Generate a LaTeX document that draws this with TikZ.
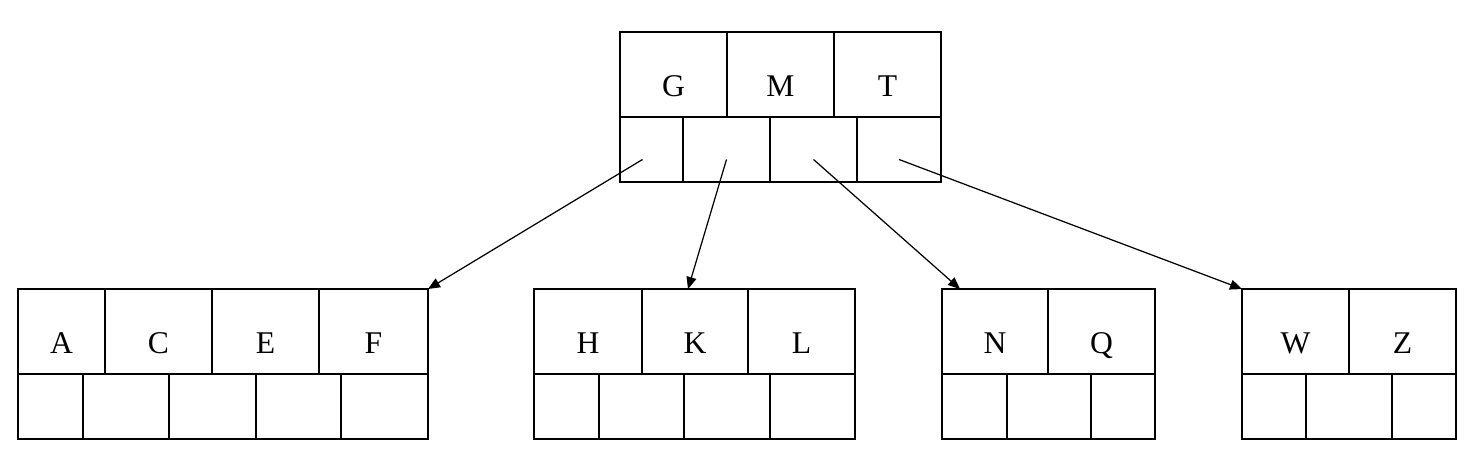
\documentclass[tikz,border=0pt]{standalone}
\usepackage{fontspec}
\newfontfamily\keyfont{Liberation Serif}
\usetikzlibrary{arrows.meta}

\begin{document}
\begin{tikzpicture}[x=0.02cm, y=-0.02cm, >={Triangle[length=2.4mm, width=2mm]}, keycell/.style={draw, line width=1pt, anchor=north west, minimum width=#1*0.02cm, minimum height=1.7cm, inner sep=0pt, outer sep=0pt, text height=0.9cm, text depth=0pt, font=\keyfont\fontsize{18}{18}\selectfont}, ptrcell/.style={draw, line width=1pt, anchor=north west, minimum width=#1*0.02cm, minimum height=1.3cm, inner sep=0pt, outer sep=0pt}, link/.style={->, line width=0.7pt}]
	\useasboundingbox (0,0) rectangle (1477,461);
	% root
	\node[keycell=107] (kG) at (620,32) {G};
	\node[keycell=107] (kM) at (kG.north east) {M};
	\node[keycell=107] (kT) at (kM.north east) {T};
	\node[ptrcell=63] (r1) at (kG.south west) {};
	\foreach \n/\p/\w in {r2/r1/87, r3/r2/87, r4/r3/84} {\node[ptrcell=\w] (\n) at (\p.north east) {};}
	% leaf A C E F
	\node[keycell=87] (kA) at (18,289) {A};
	\foreach \n/\p/\w/\l in {kC/kA/107/C, kE/kC/107/E, kF/kE/109/F} {\node[keycell=\w] (\n) at (\p.north east) {\l};}
	\node[ptrcell=65] (a1) at (kA.south west) {};
	\foreach \n/\p/\w in {a2/a1/86, a3/a2/87, a4/a3/85, a5/a4/87} {\node[ptrcell=\w] (\n) at (\p.north east) {};}
	% leaf H K L
	\node[keycell=108] (kH) at (534,289) {H};
	\foreach \n/\p/\w/\l in {kK/kH/106/K, kL/kK/107/L} {\node[keycell=\w] (\n) at (\p.north east) {\l};}
	\node[ptrcell=65] (h1) at (kH.south west) {};
	\foreach \n/\p/\w in {h2/h1/85, h3/h2/86, h4/h3/85} {\node[ptrcell=\w] (\n) at (\p.north east) {};}
	% leaf N Q
	\node[keycell=106] (kN) at (942,289) {N};
	\node[keycell=107] (kQ) at (kN.north east) {Q};
	\node[ptrcell=65] (n1) at (kN.south west) {};
	\foreach \n/\p/\w in {n2/n1/84, n3/n2/64} {\node[ptrcell=\w] (\n) at (\p.north east) {};}
	% leaf W Z
	\node[keycell=107] (kW) at (1242,289) {W};
	\node[keycell=107] (kZ) at (kW.north east) {Z};
	\node[ptrcell=64] (w1) at (kW.south west) {};
	\foreach \n/\p/\w in {w2/w1/86, w3/w2/64} {\node[ptrcell=\w] (\n) at (\p.north east) {};}
	% pointers
	\draw[link] ([shift={(-9,10)}]r1.center) -- (kF.north east);
	\draw[link] ([yshift=-0.2cm]r2.center) -- ([xshift=-0.14cm]kK.north);
	\draw[link] ([yshift=-0.2cm]r3.center) -- ([xshift=0.36cm]kN.north west);
	\draw[link] ([yshift=-0.2cm]r4.center) -- (kW.north west);
\end{tikzpicture}
\end{document}
